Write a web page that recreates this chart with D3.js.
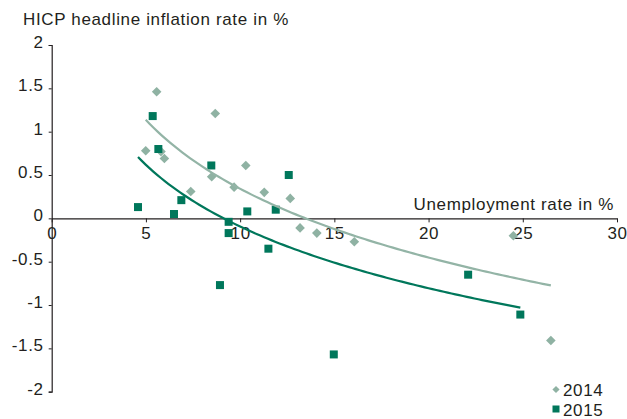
<!DOCTYPE html>
<html>
<head>
<meta charset="utf-8">
<script src="https://cdn.jsdelivr.net/npm/d3@7"></script>
<style>
  html, body { margin: 0; padding: 0; background: #fff; }
  svg { display: block; }
  text { font-family: "Liberation Sans", Arial, Helvetica, sans-serif; fill: #231f20; }
</style>
</head>
<body>
<svg id="chart" width="627" height="419"></svg>
<script>
// ---- Data ----
const unemp2014 = [4.99, 5.57, 5.80, 5.98, 7.38, 8.49, 8.68, 9.68, 10.30, 11.28, 12.66, 13.18, 14.07, 16.06, 24.50, 26.49];
const infl2014  = [0.78, 1.46, 0.77, 0.69, 0.31, 0.48, 1.21, 0.36, 0.61, 0.30, 0.23, -0.11, -0.17, -0.27, -0.20, -1.41];
const unemp2015 = [4.58, 5.36, 5.66, 6.49, 6.88, 8.47, 8.93, 9.39, 9.39, 10.38, 11.50, 11.89, 12.58, 14.97, 22.10, 24.87];
const infl2015  = [0.13, 1.18, 0.80, 0.05, 0.21, 0.61, -0.77, -0.04, -0.17, 0.08, -0.35, 0.10, 0.50, -1.57, -0.65, -1.11];
const xTicks = [0, 5, 10, 15, 20, 25, 30];
const yTicks = [2, 1.5, 1, 0.5, 0, -0.5, -1, -1.5, -2];
const seriesNames = ["2014", "2015"];
const yTitle = "HICP headline inflation rate in %";
const xTitle = "Unemployment rate in %";

// ---- Styles ----
const lightCol = "#8fb2a3";
const lightLine = "#93b4a6";
const darkCol = "#00775b";
const fontSize = 17;
const spacing = "0.65px";

const svg = d3.select("#chart");
const x = d3.scaleLinear().domain([0, 30]).range([51.7, 617]);
const y = d3.scaleLinear().domain([-2, 2]).range([391.7, 45]);

// Logarithmic trend (least squares of y on ln x)
function logFit(xs, ys) {
  const L = xs.map(Math.log);
  const mL = d3.mean(L), mY = d3.mean(ys);
  let sxy = 0, sxx = 0;
  L.forEach((l, i) => { sxy += (l - mL) * (ys[i] - mY); sxx += (l - mL) * (l - mL); });
  const b = sxy / sxx, a = mY - b * mL;
  return v => a + b * Math.log(v);
}

// ---- Axes ----
const yAxis = d3.axisLeft(y).tickValues(yTicks).tickSize(3).tickPadding(5)
  .tickFormat(d => d3.format("")(d).replace("−", "-"));
const gy = svg.append("g").attr("transform", `translate(${x(0)},0)`).call(yAxis);
gy.select(".domain").attr("stroke", "#231f20").attr("stroke-width", 1.2);
gy.selectAll(".tick line").attr("stroke", "#231f20");
gy.selectAll(".tick text").attr("dy", "0.15em");

const xAxis = d3.axisBottom(x).tickValues(xTicks).tickSize(4).tickPadding(5).tickSizeOuter(0);
const gx = svg.append("g").attr("transform", `translate(0,${y(0)})`).call(xAxis);
gx.select(".domain").attr("stroke", "#231f20").attr("stroke-width", 1.2);
gx.selectAll(".tick line").attr("stroke", "#231f20");
svg.selectAll(".tick text")
  .attr("font-family", null).attr("font-size", null)
  .style("font-size", fontSize + "px").style("letter-spacing", spacing)
  .style("fill", "#231f20");

// titles
svg.append("text").attr("x", 23).attr("y", 25)
  .style("font-size", fontSize + "px").style("letter-spacing", spacing).text(yTitle);
svg.append("text").attr("x", 614).attr("y", 210).attr("text-anchor", "end")
  .style("font-size", fontSize + "px").style("letter-spacing", spacing).text(xTitle);

// ---- Markers ----
const diamond = (cx, cy, r) => `M${cx},${cy - r}L${cx + r},${cy}L${cx},${cy + r}L${cx - r},${cy}Z`;

svg.append("g").selectAll("path").data(unemp2014.map((u, i) => [u, infl2014[i]]))
  .join("path").attr("d", d => diamond(x(d[0]), y(d[1]), 4.8)).attr("fill", lightCol);

svg.append("g").selectAll("rect").data(unemp2015.map((u, i) => [u, infl2015[i]]))
  .join("rect")
  .attr("x", d => x(d[0]) - 4).attr("y", d => y(d[1]) - 4)
  .attr("width", 8).attr("height", 8).attr("fill", darkCol);

// ---- Trend lines ----
function trend(xs, ys, color) {
  const f = logFit(xs, ys);
  const [lo, hi] = d3.extent(xs);
  const pts = d3.range(0, 101).map(k => lo + (hi - lo) * k / 100);
  svg.append("path")
    .datum(pts)
    .attr("d", d3.line().x(v => x(v)).y(v => y(f(v))))
    .attr("fill", "none").attr("stroke", color).attr("stroke-width", 2.2);
}
trend(unemp2014, infl2014, lightLine);
trend(unemp2015, infl2015, darkCol);

// ---- Legend ----
const lg = svg.append("g");
lg.append("path").attr("d", diamond(556, 389.5, 3.6)).attr("fill", lightCol);
lg.append("text").attr("x", 563).attr("y", 396)
  .style("font-size", fontSize + "px").style("letter-spacing", spacing).text(seriesNames[0]);
lg.append("rect").attr("x", 552.5).attr("y", 405.5).attr("width", 7).attr("height", 7).attr("fill", darkCol);
lg.append("text").attr("x", 563).attr("y", 416)
  .style("font-size", fontSize + "px").style("letter-spacing", spacing).text(seriesNames[1]);
</script>
</body>
</html>
